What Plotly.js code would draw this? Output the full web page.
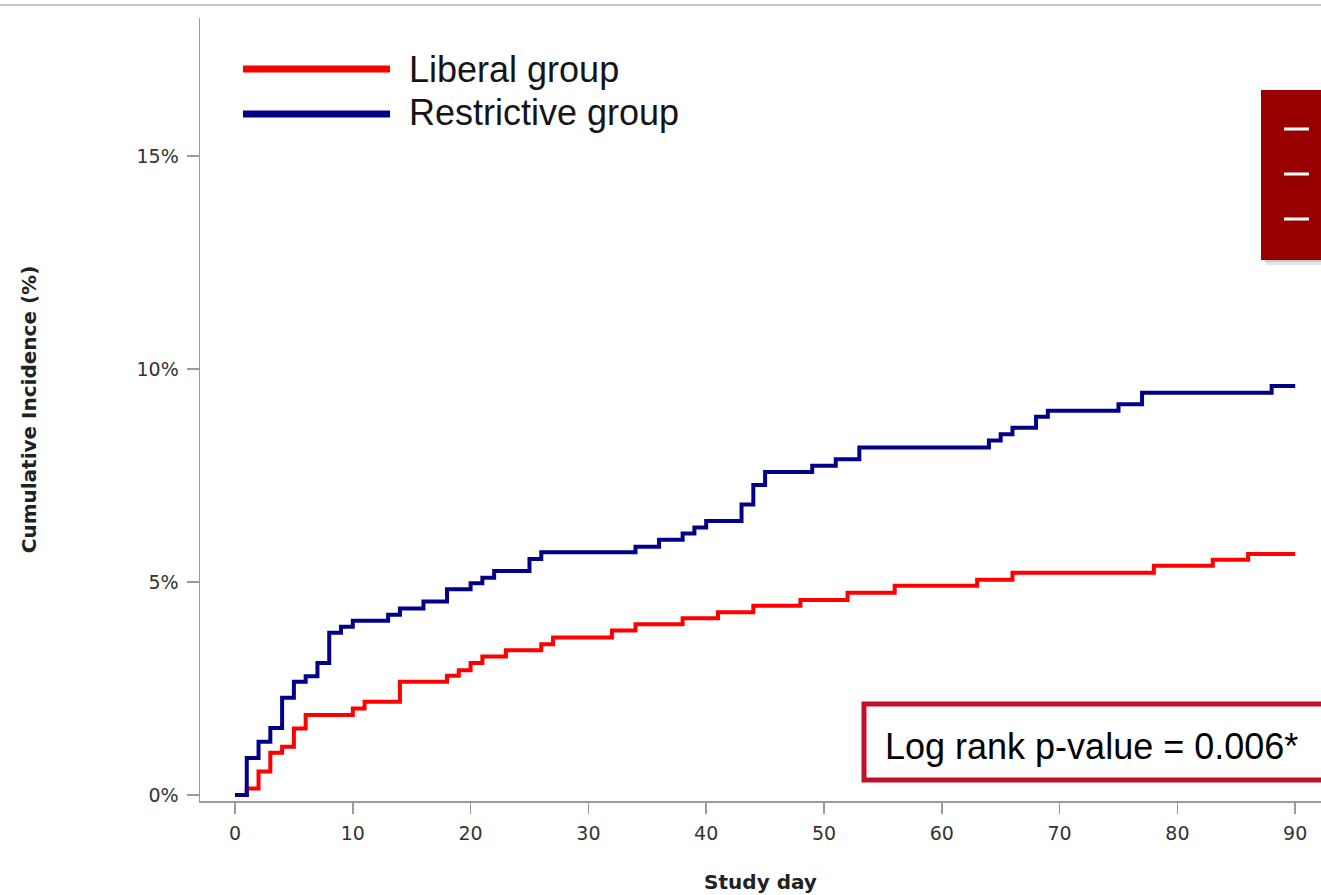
<!DOCTYPE html>
<html>
<head>
<meta charset="utf-8">
<script src="https://cdn.plot.ly/plotly-3.0.1.min.js"></script>
<style>
  html, body { margin: 0; padding: 0; background: #ffffff; }
  #chart { width: 1321px; height: 895px; }
</style>
</head>
<body>
<div id="chart"></div>
<script>
// ---- Data ----
const seriesNames = ["Liberal group", "Restrictive group"];

const liberalDays = [0, 1, 2, 3, 4, 5, 6, 10, 11, 14, 18, 19, 20, 21, 23, 26, 27, 32, 34, 38, 41, 44, 48, 52, 56, 63, 66, 78, 83, 86, 90];
const liberalPct  = [0, 0.15, 0.55, 0.99, 1.13, 1.56, 1.88, 2.03, 2.19, 2.66, 2.80, 2.93, 3.10, 3.25, 3.40, 3.54, 3.70, 3.86, 4.01, 4.15, 4.29, 4.44, 4.58, 4.75, 4.91, 5.05, 5.22, 5.38, 5.52, 5.66, 5.66];

const restrictiveDays = [0, 1, 2, 3, 4, 5, 6, 7, 8, 9, 10, 13, 14, 16, 18, 20, 21, 22, 25, 26, 34, 36, 38, 39, 40, 43, 44, 45, 49, 51, 53, 64, 65, 66, 68, 69, 75, 77, 88, 90];
const restrictivePct  = [0, 0.87, 1.25, 1.57, 2.28, 2.66, 2.79, 3.10, 3.81, 3.95, 4.09, 4.23, 4.38, 4.54, 4.83, 4.97, 5.10, 5.26, 5.54, 5.70, 5.83, 5.99, 6.14, 6.28, 6.43, 6.82, 7.28, 7.58, 7.73, 7.88, 8.16, 8.32, 8.47, 8.62, 8.88, 9.02, 9.17, 9.44, 9.60, 9.60];

const xTickVals = [0, 10, 20, 30, 40, 50, 60, 70, 80, 90];
const yTickVals = [0, 5, 10, 15];
const yTickText = ["0%", "5%", "10%", "15%"];

const xTitle = "Study day";
const yTitle = "Cumulative Incidence (%)";
const pValueText = "Log rank p-value = 0.006*";

const colors = ["#FF0000", "#000088"];

// ---- Geometry helpers (pixel -> paper) ----
const W = 1321, H = 895;
const M = { l: 200, r: 0, t: 18, b: 94 };
const PW = W - M.l - M.r, PH = H - M.t - M.b;
const px = x => (x - M.l) / PW;
const py = y => (H - M.b - y) / PH;

const traces = [
  { x: liberalDays, y: liberalPct, name: seriesNames[0], type: "scatter", mode: "lines",
    line: { color: colors[0], width: 4, shape: "hv" }, showlegend: false, hoverinfo: "x+y+name" },
  { x: restrictiveDays, y: restrictivePct, name: seriesNames[1], type: "scatter", mode: "lines",
    line: { color: colors[1], width: 4, shape: "hv" }, showlegend: false, hoverinfo: "x+y+name" }
];

const axisFont = { family: "DejaVu Sans", size: 19, color: "#333333" };
const titleFont = { family: "DejaVu Sans", size: 20, color: "#222222", weight: "bold" };

const shapes = [
  // top slide border
  { type: "line", xref: "paper", yref: "paper", x0: px(0), x1: px(W), y0: py(5), y1: py(5),
    line: { color: "#c4c4c4", width: 2 } },
  // legend lines
  { type: "line", xref: "paper", yref: "paper", x0: px(243), x1: px(390), y0: py(69), y1: py(69),
    line: { color: colors[0], width: 7 } },
  { type: "line", xref: "paper", yref: "paper", x0: px(243), x1: px(390), y0: py(114), y1: py(114),
    line: { color: colors[1], width: 7 } },
  // red side panel shadow
  { type: "rect", xref: "paper", yref: "paper", x0: px(1266), x1: px(1330), y0: py(265), y1: py(255),
    fillcolor: "rgba(0,0,0,0.10)", line: { width: 0 } },
  { type: "rect", xref: "paper", yref: "paper", x0: px(1264), x1: px(1330), y0: py(262), y1: py(255),
    fillcolor: "rgba(0,0,0,0.12)", line: { width: 0 } },
  // red side panel
  { type: "rect", xref: "paper", yref: "paper", x0: px(1261), x1: px(1330), y0: py(260), y1: py(90),
    fillcolor: "#990000", line: { width: 0 } },
  { type: "line", xref: "paper", yref: "paper", x0: px(1284), x1: px(1309), y0: py(129), y1: py(129),
    line: { color: "#ffffff", width: 3 } },
  { type: "line", xref: "paper", yref: "paper", x0: px(1284), x1: px(1309), y0: py(174), y1: py(174),
    line: { color: "#ffffff", width: 3 } },
  { type: "line", xref: "paper", yref: "paper", x0: px(1284), x1: px(1309), y0: py(219), y1: py(219),
    line: { color: "#ffffff", width: 3 } },
  // p-value box
  { type: "rect", xref: "paper", yref: "paper", x0: px(864), x1: px(1340), y0: py(780), y1: py(704),
    fillcolor: "#ffffff", line: { color: "#C0122B", width: 5 } }
];

const annotations = [
  { xref: "paper", yref: "paper", x: px(407), y: py(69), xanchor: "left", yanchor: "middle",
    text: seriesNames[0], showarrow: false,
    font: { family: "Liberation Sans", size: 36, color: "#151515" } },
  { xref: "paper", yref: "paper", x: px(407), y: py(113), xanchor: "left", yanchor: "middle",
    text: seriesNames[1], showarrow: false,
    font: { family: "Liberation Sans", size: 36, color: "#151515" } },
  { xref: "paper", yref: "paper", x: px(883), y: py(746), xanchor: "left", yanchor: "middle",
    text: pValueText, showarrow: false,
    font: { family: "Liberation Sans", size: 36, color: "#000000" } }
];

const layout = {
  width: W, height: H,
  margin: M,
  paper_bgcolor: "#ffffff", plot_bgcolor: "#ffffff",
  showlegend: false,
  xaxis: {
    range: [-2.97, 92.19], tickvals: xTickVals, ticks: "outside", ticklen: 11, tickwidth: 1.5,
    tickcolor: "#9a9a9a", showline: true, linecolor: "#9a9a9a", linewidth: 1.5,
    showgrid: false, zeroline: false, tickfont: axisFont, automargin: false, ticklabelstandoff: 4,
    title: { text: xTitle, font: titleFont, standoff: 31 }
  },
  yaxis: {
    range: [-0.141, 18.24], tickvals: yTickVals, ticktext: yTickText, ticks: "outside", ticklen: 12, tickwidth: 1.5,
    tickcolor: "#9a9a9a", showline: true, linecolor: "#9a9a9a", linewidth: 1.5,
    showgrid: false, zeroline: false, tickfont: axisFont, automargin: false, ticklabelstandoff: 4,
    title: { text: yTitle, font: titleFont, standoff: 94 }
  },
  shapes: shapes,
  annotations: annotations
};

Plotly.newPlot("chart", traces, layout, { displayModeBar: false, staticPlot: true });
</script>
</body>
</html>
